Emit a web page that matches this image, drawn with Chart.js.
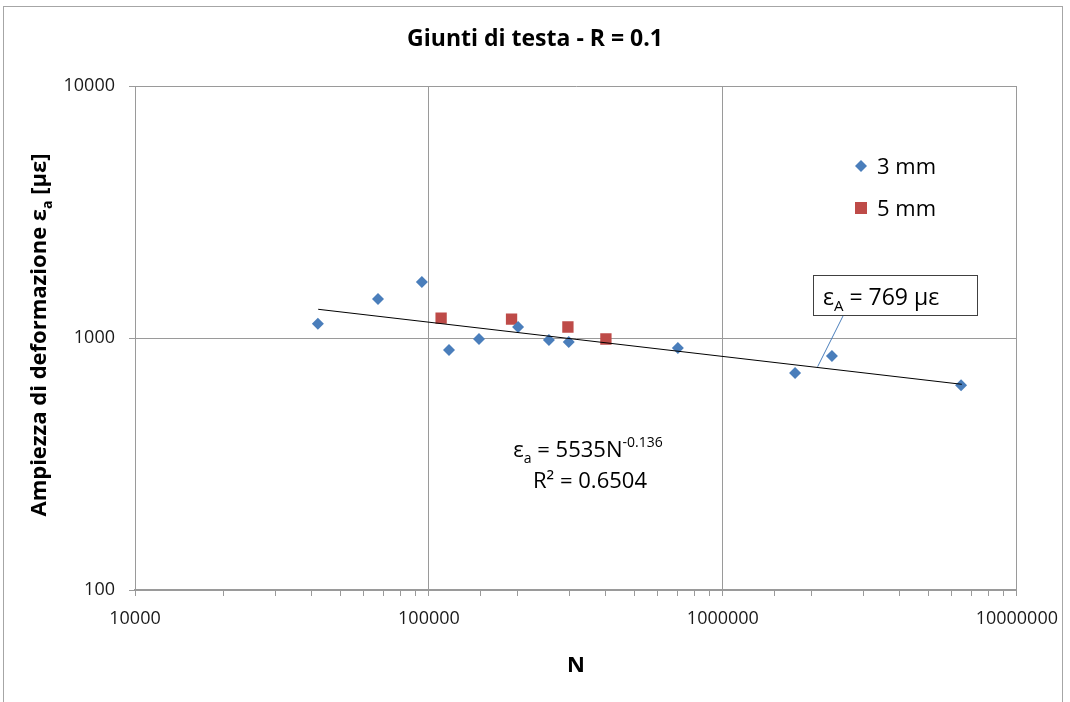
<!DOCTYPE html>
<html>
<head>
<meta charset="utf-8">
<script src="https://cdn.jsdelivr.net/npm/chart.js@4.4.1/dist/chart.umd.min.js"></script>
<style>
  html, body { margin: 0; padding: 0; background: #fff; }
  #wrap { width: 1070px; height: 702px; position: relative; }
</style>
</head>
<body>
<div id="wrap"><canvas id="myChart" width="1070" height="702"></canvas></div>
<script>
// dati (N, ampiezza in microstrain)
const n3mm = [41900, 67100, 94600, 117000, 148000, 201000, 256000, 299000, 703000, 1760000, 2350000, 6460000];
const eps3mm = [1138, 1429, 1667, 896, 991, 1106, 982, 964, 912, 726, 849, 650];
const n5mm = [110000, 191000, 297000, 400000];
const eps5mm = [1199, 1189, 1106, 991];
// estremi della linea di tendenza
const nTrend = [42000, 6500000];
const epsTrend = [1300, 655];
const xTicks = [10000, 100000, 1000000, 10000000];
const yTicks = [100, 1000, 10000];
const annoPoint = [2100000, 769];

const FONT = "'Open Sans', 'Liberation Sans', sans-serif";
const isMajor = (v, list) => list.indexOf(v) >= 0;

function pts(xs, ys) {
    return xs.map((x, i) => ({x: x, y: ys[i]}));
}

// testo con pedici / apici: parts = [[testo, 'n'|'sub'|'sup'], ...]
function richWidth(ctx, parts, size, weight) {
    let w = 0;
    parts.forEach(p => {
        ctx.font = (weight || '') + " " + (p[1] == 'n' ? size : Math.round(size * 0.65)) + "px " + FONT;
        w += ctx.measureText(p[0]).width;
    });
    return w;
}
function richText(ctx, parts, x, y, size, weight) {
    let cx = x;
    parts.forEach(p => {
        let s = p[1] == 'n' ? size : Math.round(size * 0.65);
        ctx.font = (weight || '') + " " + s + "px " + FONT;
        let dy = p[1] == 'sub' ? size * 0.25 : (p[1] == 'sup' ? -size * 0.45 : 0);
        ctx.fillText(p[0], cx, y + dy);
        cx += ctx.measureText(p[0]).width;
    });
}

const extras = {
    id: 'extras',
    afterDraw(chart) {
        const ctx = chart.ctx;
        const xs = chart.scales.x, ys = chart.scales.y;
        ctx.save();
        // bordo esterno
        ctx.strokeStyle = '#a6a6a6';
        ctx.lineWidth = 1;
        ctx.strokeRect(3.5, 6.5, 1059, 700);

        ctx.fillStyle = '#000';
        ctx.textBaseline = 'alphabetic';
        ctx.textAlign = 'center';
        ctx.font = "bold 23px " + FONT;
        ctx.fillText("Giunti di testa - R = 0.1", 535, 46);
        ctx.font = "bold 22px " + FONT;
        ctx.fillText("N", 576, 672);

        // titolo asse y
        ctx.textAlign = 'left';
        let yt = [["Ampiezza di deformazione ε", 'n'], ["a", 'sub'], [" [με]", 'n']];
        ctx.save();
        ctx.translate(46, 335);
        ctx.rotate(-Math.PI / 2);
        let w = richWidth(ctx, yt, 22, 'bold');
        richText(ctx, yt, -w / 2, 0, 22, 'bold');
        ctx.restore();

        // legenda
        ctx.fillStyle = '#4A7EBB';
        ctx.beginPath();
        ctx.moveTo(861, 160); ctx.lineTo(867, 166); ctx.lineTo(861, 172); ctx.lineTo(855, 166);
        ctx.closePath(); ctx.fill();
        ctx.fillStyle = '#BE4B48';
        ctx.fillRect(855, 202, 12, 12);
        ctx.fillStyle = '#000';
        ctx.font = "22px " + FONT;
        ctx.fillText("3 mm", 877, 174);
        ctx.fillText("5 mm", 877, 216);

        // equazione
        let eq1 = [["ε", 'n'], ["a", 'sub'], [" = 5535N", 'n'], ["-0.136", 'sup']];
        let w1 = richWidth(ctx, eq1, 22);
        richText(ctx, eq1, 588 - w1 / 2, 457, 22);
        ctx.textAlign = 'center';
        ctx.font = "22px " + FONT;
        ctx.fillText("R² = 0.6504", 590, 488);

        // etichetta con linea guida
        let ax = xs.getPixelForValue(annoPoint[0]);
        let ay = ys.getPixelForValue(annoPoint[1]);
        ctx.strokeStyle = '#4A7EBB';
        ctx.lineWidth = 1;
        ctx.beginPath();
        ctx.moveTo(ax, ay);
        ctx.lineTo(843, 316);
        ctx.stroke();
        ctx.fillStyle = '#fff';
        ctx.fillRect(813, 275, 165, 41);
        ctx.strokeStyle = '#404040';
        ctx.strokeRect(813.5, 275.5, 164, 40);
        ctx.fillStyle = '#000';
        ctx.textAlign = 'left';
        richText(ctx, [["ε", 'n'], ["A", 'sub'], [" = 769 με", 'n']], 823, 305, 23);
        ctx.restore();
    }
};

new Chart("myChart", {
    type: "scatter",
    data: {
        datasets: [
            {
                label: "trend",
                type: "line",
                data: pts(nTrend, epsTrend),
                borderColor: "#000",
                borderWidth: 1,
                pointRadius: 0,
                fill: false
            },
            {
                label: "3 mm",
                data: pts(n3mm, eps3mm),
                pointStyle: "rectRot",
                pointRadius: 6,
                backgroundColor: "#4A7EBB",
                borderColor: "#4A7EBB",
                borderWidth: 0
            },
            {
                label: "5 mm",
                data: pts(n5mm, eps5mm),
                pointStyle: "rect",
                pointRadius: 8,
                backgroundColor: "#BE4B48",
                borderColor: "#BE4B48",
                borderWidth: 0
            }
        ]
    },
    options: {
        responsive: false,
        animation: false,
        layout: {padding: {top: 86, right: 53, bottom: 0, left: 0}},
        plugins: {
            legend: {display: false},
            tooltip: {enabled: false},
            title: {display: false}
        },
        scales: {
            x: {
                type: "logarithmic",
                position: "bottom",
                min: 10000,
                max: 10000000,
                afterFit: s => { s.height = 112; },
                border: {color: "#9a9a9a", width: 2},
                grid: {
                    color: c => isMajor(c.tick.value, xTicks) ? "#9a9a9a" : "rgba(0,0,0,0)",
                    tickColor: "#9a9a9a",
                    tickLength: 6
                },
                ticks: {
                    autoSkip: false,
                    maxRotation: 0,
                    padding: 12,
                    color: "#1a1a1a",
                    font: {family: FONT, size: 18},
                    callback: v => isMajor(v, xTicks) ? String(v) : ""
                }
            },
            y: {
                type: "logarithmic",
                min: 100,
                max: 10000,
                afterFit: s => { s.width = 135; },
                border: {color: "#9a9a9a", width: 1},
                grid: {
                    color: c => isMajor(c.tick.value, yTicks) ? "#9a9a9a" : "rgba(0,0,0,0)",
                    tickColor: c => isMajor(c.tick.value, yTicks) ? "#9a9a9a" : "rgba(0,0,0,0)",
                    tickLength: 6
                },
                ticks: {
                    autoSkip: false,
                    padding: 14,
                    color: "#1a1a1a",
                    font: {family: FONT, size: 18},
                    callback: v => isMajor(v, yTicks) ? String(v) : ""
                }
            }
        }
    },
    plugins: [extras]
});
</script>
</body>
</html>
